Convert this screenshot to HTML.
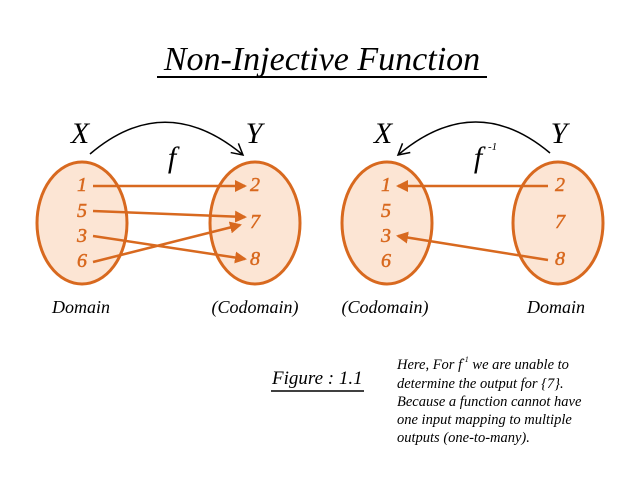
<!DOCTYPE html>
<html><head><style>
html,body{margin:0;padding:0;background:#fff;}
svg{display:block;}
</style></head><body>
<svg width="640" height="478" viewBox="0 0 640 478" xmlns="http://www.w3.org/2000/svg">
<defs>
<marker id="oa" markerWidth="12" markerHeight="12" refX="10" refY="6" orient="auto" markerUnits="userSpaceOnUse"><path d="M0,0 L12,6 L0,12 z" fill="#d8691f"/></marker>
<marker id="ka" markerWidth="14" markerHeight="14" refX="12" refY="7" orient="auto" markerUnits="userSpaceOnUse"><path d="M1,1 L12,7 L1,13" fill="none" stroke="#000" stroke-width="1.5"/></marker>
</defs>
<g font-family="Liberation Serif, serif" font-style="italic">
<text x="322" y="70" font-size="34" text-anchor="middle">Non-Injective Function</text>
<line x1="157" y1="77" x2="487" y2="77" stroke="#000" stroke-width="2"/>

<g fill="#fce5d4" stroke="#d8691f" stroke-width="3">
<ellipse cx="82" cy="223" rx="45" ry="61"/>
<ellipse cx="255" cy="223" rx="45" ry="61"/>
<ellipse cx="387" cy="223" rx="45" ry="61"/>
<ellipse cx="558" cy="223" rx="45" ry="61"/>
</g>

<g font-size="30" fill="#000">
<text x="80" y="143" text-anchor="middle">X</text>
<text x="254" y="143" text-anchor="middle">Y</text>
<text x="383" y="143" text-anchor="middle">X</text>
<text x="559" y="143" text-anchor="middle">Y</text>
<text x="172" y="167" text-anchor="middle">f</text>
<text x="478" y="167" text-anchor="middle">f</text>
<text x="488" y="150" font-size="11">-1</text>
</g>
<path d="M90,154 Q165,90 243,155" fill="none" stroke="#000" stroke-width="1.5" marker-end="url(#ka)"/>
<path d="M550,153 Q475,90 398,155" fill="none" stroke="#000" stroke-width="1.5" marker-end="url(#ka)"/>

<g font-size="20" fill="#d8691f" text-anchor="middle" stroke="#d8691f" stroke-width="0.5">
<text x="82" y="191">1</text><text x="82" y="217">5</text><text x="82" y="242">3</text><text x="82" y="267">6</text>
<text x="255" y="191">2</text><text x="255" y="228">7</text><text x="255" y="265">8</text>
<text x="386" y="191">1</text><text x="386" y="217">5</text><text x="386" y="242">3</text><text x="386" y="267">6</text>
<text x="560" y="191">2</text><text x="560" y="228">7</text><text x="560" y="265">8</text>
</g>
<g stroke="#d8691f" stroke-width="2.5" marker-end="url(#oa)">
<line x1="93" y1="186" x2="245" y2="186"/>
<line x1="93" y1="211" x2="245" y2="217"/>
<line x1="93" y1="236" x2="245" y2="259"/>
<line x1="93" y1="262" x2="240" y2="225"/>
<line x1="548" y1="186" x2="398" y2="186"/>
<line x1="548" y1="260" x2="398" y2="236"/>
</g>

<g font-size="18" fill="#000" text-anchor="middle">
<text x="81" y="313">Domain</text>
<text x="255" y="313">(Codomain)</text>
<text x="385" y="313">(Codomain)</text>
<text x="556" y="313">Domain</text>
</g>

<text x="272" y="384" font-size="19">Figure : 1.1</text>
<line x1="271" y1="391" x2="364" y2="391" stroke="#000" stroke-width="1.5"/>

<g font-size="14.5" fill="#000">
<text x="397" y="369">Here, For f<tspan font-size="8" dy="-7">-1</tspan><tspan dy="7"> we are unable to</tspan></text>
<text x="397" y="388">determine the output for {7}.</text>
<text x="397" y="406">Because a function cannot have</text>
<text x="397" y="424">one input mapping to multiple</text>
<text x="397" y="442">outputs (one-to-many).</text>
</g>
</g>
</svg>
</body></html>
